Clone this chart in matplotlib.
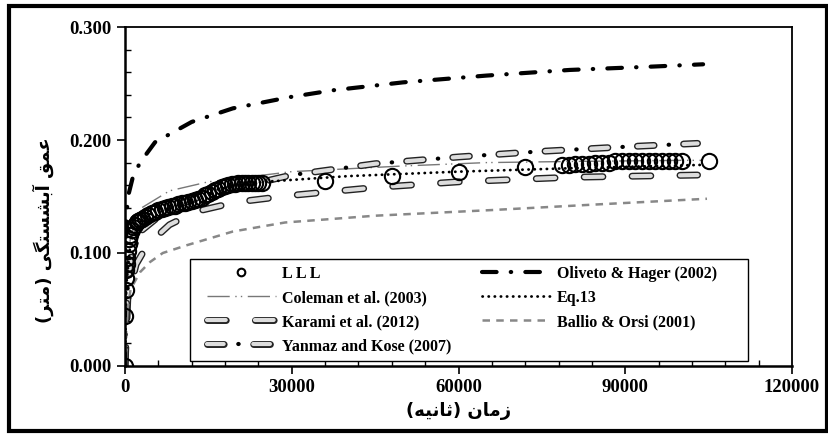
import matplotlib
matplotlib.use('Agg')
import matplotlib.pyplot as plt
from matplotlib import patheffects as pe
from matplotlib.patches import Rectangle
from matplotlib.ticker import MultipleLocator, FormatStrFormatter

# measured scour depth (LLL)
t_obs = [0, 60, 120, 180, 240, 300, 420, 540, 660, 780, 900, 1200, 1500, 1800, 2100, 2400,
         2700, 3000, 3600, 4200, 4800, 5400, 6000, 6600, 7200, 7800, 8400, 9000, 9600, 10200,
         10800, 11400, 12000, 12600, 13200, 13800, 14400, 15000, 15600, 16200, 16800, 17400,
         18000, 18600, 19200, 19800, 20400, 21000, 21600, 22200, 22800, 23400, 24000, 24600,
         36000, 48000, 60000, 72000, 78600, 79800, 81000, 82200, 83400, 84600, 85800, 87000,
         88200, 89400, 90600, 91800, 93000, 94200, 95400, 96600, 97800, 99000, 100200, 105000]
d_obs = [0.000, 0.044, 0.067, 0.078, 0.085, 0.090, 0.096, 0.102, 0.108, 0.112, 0.116, 0.120,
         0.123, 0.125, 0.127, 0.128, 0.129, 0.130, 0.132, 0.134, 0.135, 0.136, 0.138, 0.139,
         0.140, 0.141, 0.142, 0.142, 0.143, 0.144, 0.144, 0.145, 0.146, 0.147, 0.148, 0.149,
         0.151, 0.152, 0.154, 0.156, 0.157, 0.158, 0.159, 0.160, 0.161, 0.161, 0.162, 0.162,
         0.162, 0.162, 0.162, 0.162, 0.162, 0.162,
         0.164, 0.168, 0.172, 0.176, 0.178, 0.178, 0.179, 0.179, 0.179, 0.180, 0.180, 0.180,
         0.181, 0.181, 0.181, 0.181, 0.181, 0.181, 0.181, 0.181, 0.181, 0.181, 0.181, 0.181]

# Oliveto & Hager (2002)
t_oli = [0, 100, 300, 540, 1400, 2700, 5400, 12000, 19400, 29700, 37400, 50000, 65000, 80000, 95000, 104000]
d_oli = [0.0, 0.100, 0.135, 0.150, 0.167, 0.180, 0.198, 0.216, 0.228, 0.238, 0.244, 0.251, 0.257, 0.262, 0.265, 0.267]

# Coleman et al. (2003)
t_col = [0, 300, 1000, 3000, 8000, 15000, 30000, 50000, 65000, 80000, 100000, 104000]
d_col = [0.0, 0.080, 0.115, 0.140, 0.155, 0.163, 0.172, 0.177, 0.180, 0.181, 0.182, 0.182]

# Eq.13
t_eq = [0, 200, 1000, 3000, 8000, 15000, 25000, 40000, 60000, 80000, 104000]
d_eq = [0.0, 0.070, 0.110, 0.130, 0.145, 0.155, 0.163, 0.168, 0.172, 0.175, 0.178]

# Karami et al. (2012)
t_kar = [0, 500, 2000, 4000, 8000, 13000, 20000, 30000, 45000, 60000, 80000, 103000]
d_kar = [0.0, 0.060, 0.090, 0.107, 0.125, 0.137, 0.145, 0.151, 0.158, 0.163, 0.167, 0.169]

# Ballio & Orsi (2001)
t_bal = [0, 300, 1000, 2700, 4500, 6800, 11200, 19400, 28800, 45000, 66000, 85000, 104700]
d_bal = [0.0, 0.045, 0.068, 0.083, 0.092, 0.100, 0.107, 0.119, 0.127, 0.133, 0.138, 0.143, 0.148]

# Yanmaz and Kose (2007)
t_yan = [0, 300, 1000, 3000, 8000, 15000, 30000, 45000, 60000, 75000, 90000, 103000]
d_yan = [0.0, 0.060, 0.095, 0.120, 0.140, 0.152, 0.169, 0.179, 0.185, 0.190, 0.194, 0.197]

# persian labels (pre-shaped presentation forms, visual order)
xlab = '(\uFEEA\uFEF4\uFEE7\uFE8E\uFE9B) \uFEE5\uFE8E\uFEE3\uFEAF'
ylab = '(\uFEAE\uFE98\uFEE3) \uFEF0\uFB95\uFE98\uFEB4\uFEB8\uFE91\uFE81 \uFED6\uFEE4\uFECB'

plt.rcParams['font.family'] = ['Liberation Serif', 'DejaVu Sans']
plt.rcParams['font.weight'] = 'bold'

fig = plt.figure(figsize=(8.29, 4.37), dpi=100)
ax = fig.add_axes([0.1508, 0.1625, 0.8046, 0.7757])

outline = [pe.Stroke(linewidth=5, foreground='#222222'), pe.Normal()]

h_obs, = ax.plot(t_obs, d_obs, 'o', ms=11, mfc='none', mec='black', mew=1.5, zorder=5)
h_col, = ax.plot(t_col, d_col, color='#777777', lw=1, ls=(0, (16, 4, 1, 3, 1, 4)))
h_kar, = ax.plot(t_kar, d_kar, color='#dddddd', lw=3, ls=(0, (4.5, 7)), dash_capstyle='round',
                 path_effects=outline)
# yanmaz: outlined dashes + black dots in between
h_yan1, = ax.plot(t_yan, d_yan, color='#dddddd', lw=3, ls=(0, (4, 7.1)), dash_capstyle='round',
                  path_effects=outline)
h_yan2, = ax.plot(t_yan, d_yan, color='black', lw=3, ls=(3.6, (0.1, 11.0)), dash_capstyle='round')
h_oli, = ax.plot(t_oli, d_oli, color='black', lw=3, ls=(0, (3.5, 3.4, 0.1, 3.4)), dash_capstyle='round')
h_eq, = ax.plot(t_eq, d_eq, color='black', lw=2, ls=(0, (0.1, 2.1)), dash_capstyle='round')
h_bal, = ax.plot(t_bal, d_bal, color='#888888', lw=1.8, ls=(0, (3, 2.5)))

ax.set_xlim(0, 120000)
ax.set_ylim(0, 0.3)
ax.xaxis.set_major_locator(MultipleLocator(30000))
ax.xaxis.set_minor_locator(MultipleLocator(6000))
ax.yaxis.set_major_locator(MultipleLocator(0.1))
ax.yaxis.set_minor_locator(MultipleLocator(0.02))
ax.yaxis.set_major_formatter(FormatStrFormatter('%.3f'))
ax.tick_params(which='major', direction='out', length=6, width=1.2, labelsize=13.5)
ax.tick_params(which='minor', direction='in', length=4, width=1)
for s in ['left', 'bottom']:
    ax.spines[s].set_linewidth(1.8)
for s in ['top', 'right']:
    ax.spines[s].set_linewidth(1.3)

ax.set_xlabel(xlab, family=['DejaVu Sans'], fontsize=13, fontweight='bold', labelpad=4)
ax.set_ylabel(ylab, family=['DejaVu Sans'], fontsize=13, fontweight='bold')
ax.yaxis.set_label_coords(-0.107, 0.40)

# legend box drawn by hand, entries placed inside it
ax.add_patch(Rectangle((0.0975, 0.015), 0.8365, 0.301, transform=ax.transAxes,
                       facecolor='white', edgecolor='black', lw=1, zorder=6))
handles = [h_obs, h_col, h_kar, (h_yan1, h_yan2), h_oli, h_eq, h_bal]
labels = ['L L L', 'Coleman et al. (2003)', 'Karami et al. (2012)', 'Yanmaz and Kose (2007)',
          'Oliveto & Hager (2002)', 'Eq.13', 'Ballio & Orsi (2001)']
leg = ax.legend(handles, labels, ncol=2, loc='upper left',
                bbox_to_anchor=((207 - 125) / 667, (366 - 266) / 339),
                fontsize=11.5, handlelength=4.3, handletextpad=0.4, columnspacing=1.9,
                labelspacing=0.5, markerscale=0.5, frameon=False, borderpad=0,
                borderaxespad=0)
leg.set_zorder(7)

# outer frame around the whole chart
fig.patches.append(Rectangle((9 / 829, 6 / 437), 818 / 829, 425 / 437, transform=fig.transFigure,
                             fill=False, lw=3, edgecolor='black'))

fig.savefig('out.png', dpi=100)
